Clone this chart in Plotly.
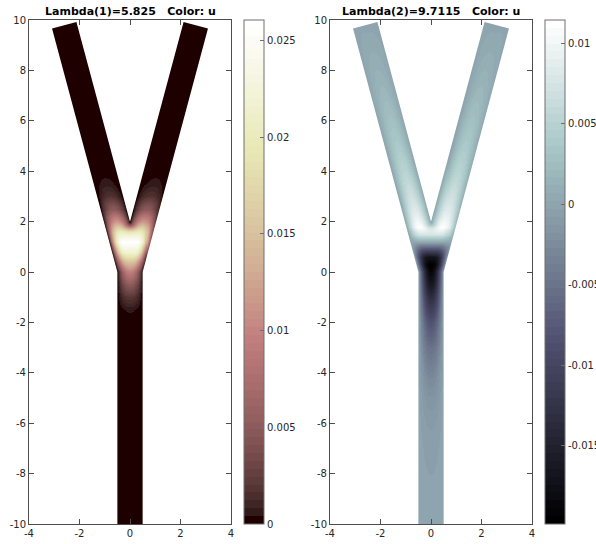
import numpy as np
import plotly.graph_objects as go

# ---------------- data ----------------
# Y-shaped domain boundary (stem width 1, arms width 1 tilted 15 deg)
outline_x = [-0.5, -0.5, -3.088, -2.122, 0.0, 2.122, 3.088, 0.5, 0.5]
outline_y = [-10.0, 0.0, 9.659, 9.918, 1.998, 9.918, 9.659, 0.0, -10.0]

# eigenvalues
lambda1 = 5.825
lambda2 = 9.7115

# centreline amplitude of u (mode 1) versus y
mode1_y = [-10, -3, -2.5, -2, -1.5, -1, -0.5, 0, 0.4, 0.8, 1.2, 1.6, 2.0, 2.5, 3.0, 3.5, 4.0, 4.5, 5.0, 10]
mode1_u = [0, 0, 0.00005, 0.00015, 0.0005, 0.002, 0.005, 0.0095, 0.015, 0.022, 0.026, 0.0205, 0.012,
           0.005, 0.0017, 0.0006, 0.0002, 0.00005, 0, 0]

# centreline amplitude of u (mode 2) versus y
mode2_y = [-10, -8, -7, -6, -5, -4, -3, -2, -1, -0.5, 0, 0.3, 0.6, 0.9, 1.2, 1.5, 1.8, 2.2, 2.6,
           3, 4, 5, 6, 7, 8, 9, 10]
mode2_u = [0, -0.0003, -0.0005, -0.0009, -0.0017, -0.0031, -0.0052, -0.0085, -0.0135, -0.0165,
           -0.019, -0.0198, -0.017, -0.009, 0, 0.0075, 0.0114, 0.0095, 0.008, 0.007, 0.0052,
           0.0039, 0.0029, 0.002, 0.0012, 0.0005, 0]

# transverse profile: relative u versus normalised distance from the wall
prof_r = [0, 0.25, 0.5, 0.75, 1.0]
prof_v = [0, 0.40, 0.72, 0.93, 1.0]

# colour ranges / colorbar ticks
c1_range = [0, 0.02606]
c2_range = [-0.01984, 0.01143]
c1_ticks = [0, 0.005, 0.01, 0.015, 0.02, 0.025]
c1_text = ["0", "0.005", "0.01", "0.015", "0.02", "0.025"]
c2_ticks = [-0.015, -0.01, -0.005, 0, 0.005, 0.01]
c2_text = ["-0.015", "-0.01", "-0.005", "0", "0.005", "0.01"]
x_ticks = [-4, -2, 0, 2, 4]
x_text = ["-4", "-2", "0", "2", "4"]
y_ticks = [-10, -8, -6, -4, -2, 0, 2, 4, 6, 8, 10]
y_text = ["-10", "-8", "-6", "-4", "-2", "0", "2", "4", "6", "8", "10"]

# ---------------- build the field table ----------------
gx = np.round(np.arange(-3.3, 3.3001, 0.04), 4)
gy = np.round(np.arange(-10.0, 10.0001, 0.04), 4)
X, Y = np.meshgrid(gx, gy)
px = np.array(outline_x)
py = np.array(outline_y)
n = len(px)

dist = np.full(X.shape, np.inf)
inside = np.zeros(X.shape, dtype=bool)
for i in range(n):
    ax_, ay_ = px[i], py[i]
    bx_, by_ = px[(i + 1) % n], py[(i + 1) % n]
    vx, vy = bx_ - ax_, by_ - ay_
    t = np.clip(((X - ax_) * vx + (Y - ay_) * vy) / (vx * vx + vy * vy), 0, 1)
    d = np.hypot(X - (ax_ + t * vx), Y - (ay_ + t * vy))
    dist = np.minimum(dist, d)
    cond = ((ay_ > Y) != (by_ > Y))
    xint = ax_ + (Y - ay_) * vx / np.where(vy == 0, 1e-12, vy)
    inside ^= cond & (X < xint)

r = np.clip(dist / 0.5, 0, 1)
P = np.interp(r, prof_r, prof_v)
Z1 = np.where(inside, np.interp(Y, mode1_y, mode1_u) * P, 0.0)
Z2 = np.where(inside, np.interp(Y, mode2_y, mode2_u) * P, 0.0)


# ---------------- MATLAB-like colormaps ----------------
def hot(m):
    k = int(np.fix(3 / 8 * m))
    rr = np.concatenate([np.arange(1, k + 1) / k, np.ones(m - k)])
    gg = np.concatenate([np.zeros(k), np.arange(1, k + 1) / k, np.ones(m - 2 * k)])
    bb = np.concatenate([np.zeros(2 * k), np.arange(1, m - 2 * k + 1) / (m - 2 * k)])
    return np.stack([rr, gg, bb], 1)


def stepped(cm):
    m = len(cm)
    out = []
    for i, c in enumerate(cm):
        col = "rgb(%d,%d,%d)" % tuple(np.round(np.clip(c, 0, 1) * 255).astype(int))
        out.append([i / m, col])
        out.append([(i + 1) / m, col])
    return out


M = 64
gray = np.linspace(0, 1, M)[:, None] * np.ones((1, 3))
pink = np.sqrt((2 * gray + hot(M)) / 3)
bone = (7 * gray + hot(M)[:, ::-1]) / 8
pink_scale = stepped(pink)
bone_scale = stepped(bone)

W, H = 596, 544
FONT = "DejaVu Sans"
TXT = "#262626"
LINE = "#4d4d4d"

ax1 = [29 / W, 231 / W]
ax2 = [330 / W, 532 / W]
ydom = [20 / H, 524 / H]


def cbar(xpix, tv, tt):
    return dict(x=xpix / W, xanchor="left", xpad=0, ypad=0, y=0.5, yanchor="middle",
                len=504, lenmode="pixels", thickness=20, thicknessmode="pixels",
                outlinewidth=1, outlinecolor="#6e6e6e", ticks="inside", ticklen=4,
                tickcolor="#6e6e6e", tickvals=tv, ticktext=tt,
                tickfont=dict(family=FONT, size=10, color=TXT))


fig = go.Figure()
fig.add_trace(go.Heatmap(x=gx, y=gy, z=Z1, zmin=c1_range[0], zmax=c1_range[1],
                         colorscale=pink_scale, zsmooth="best", xaxis="x", yaxis="y",
                         colorbar=cbar(244, c1_ticks, c1_text), hoverinfo="skip"))
fig.add_trace(go.Heatmap(x=gx, y=gy, z=Z2, zmin=c2_range[0], zmax=c2_range[1],
                         colorscale=bone_scale, zsmooth="best", xaxis="x2", yaxis="y2",
                         colorbar=cbar(545, c2_ticks, c2_text), hoverinfo="skip"))

mask_x = [-5] + outline_x + [5, 5, -5, -5]
mask_y = [-11] + outline_y + [-11, 11, 11, -11]
for xa, ya in (("x", "y"), ("x2", "y2")):
    fig.add_trace(go.Scatter(x=mask_x, y=mask_y, mode="lines", fill="toself",
                             fillcolor="white", line=dict(width=0, color="white"),
                             xaxis=xa, yaxis=ya, hoverinfo="skip", showlegend=False))

axis_common = dict(showline=True, linecolor=LINE, linewidth=1, mirror="allticks",
                   ticks="inside", ticklen=5, tickcolor=LINE, showgrid=False,
                   zeroline=False, tickfont=dict(family=FONT, size=10, color=TXT))

fig.update_layout(
    width=W, height=H, margin=dict(l=0, r=0, t=0, b=0, autoexpand=False),
    paper_bgcolor="white", plot_bgcolor="white", showlegend=False,
    xaxis=dict(domain=ax1, range=[-4, 4], tickvals=x_ticks, ticktext=x_text, anchor="y", **axis_common),
    yaxis=dict(domain=ydom, range=[-10, 10], tickvals=y_ticks, ticktext=y_text, anchor="x", **axis_common),
    xaxis2=dict(domain=ax2, range=[-4, 4], tickvals=x_ticks, ticktext=x_text, anchor="y2", **axis_common),
    yaxis2=dict(domain=ydom, range=[-10, 10], tickvals=y_ticks, ticktext=y_text, anchor="x2", **axis_common),
)

NB = "\u00a0"
titles = [("Lambda(1)=%s%sColor: u" % (f"{lambda1:g}", NB * 3), 130),
          ("Lambda(2)=%s%sColor: u" % (f"{lambda2:g}", NB * 3), 431)]
for txt, xc in titles:
    fig.add_annotation(x=xc / W, y=(H - 11) / H, xref="paper", yref="paper",
                       text="<b>%s</b>" % txt, showarrow=False, xanchor="center", yanchor="middle",
                       font=dict(family=FONT, size=11, color="#000000"))

fig.write_html("out.html", config={"displayModeBar": False},
               post_script="document.body.style.margin='0';document.body.style.overflow='hidden';")
